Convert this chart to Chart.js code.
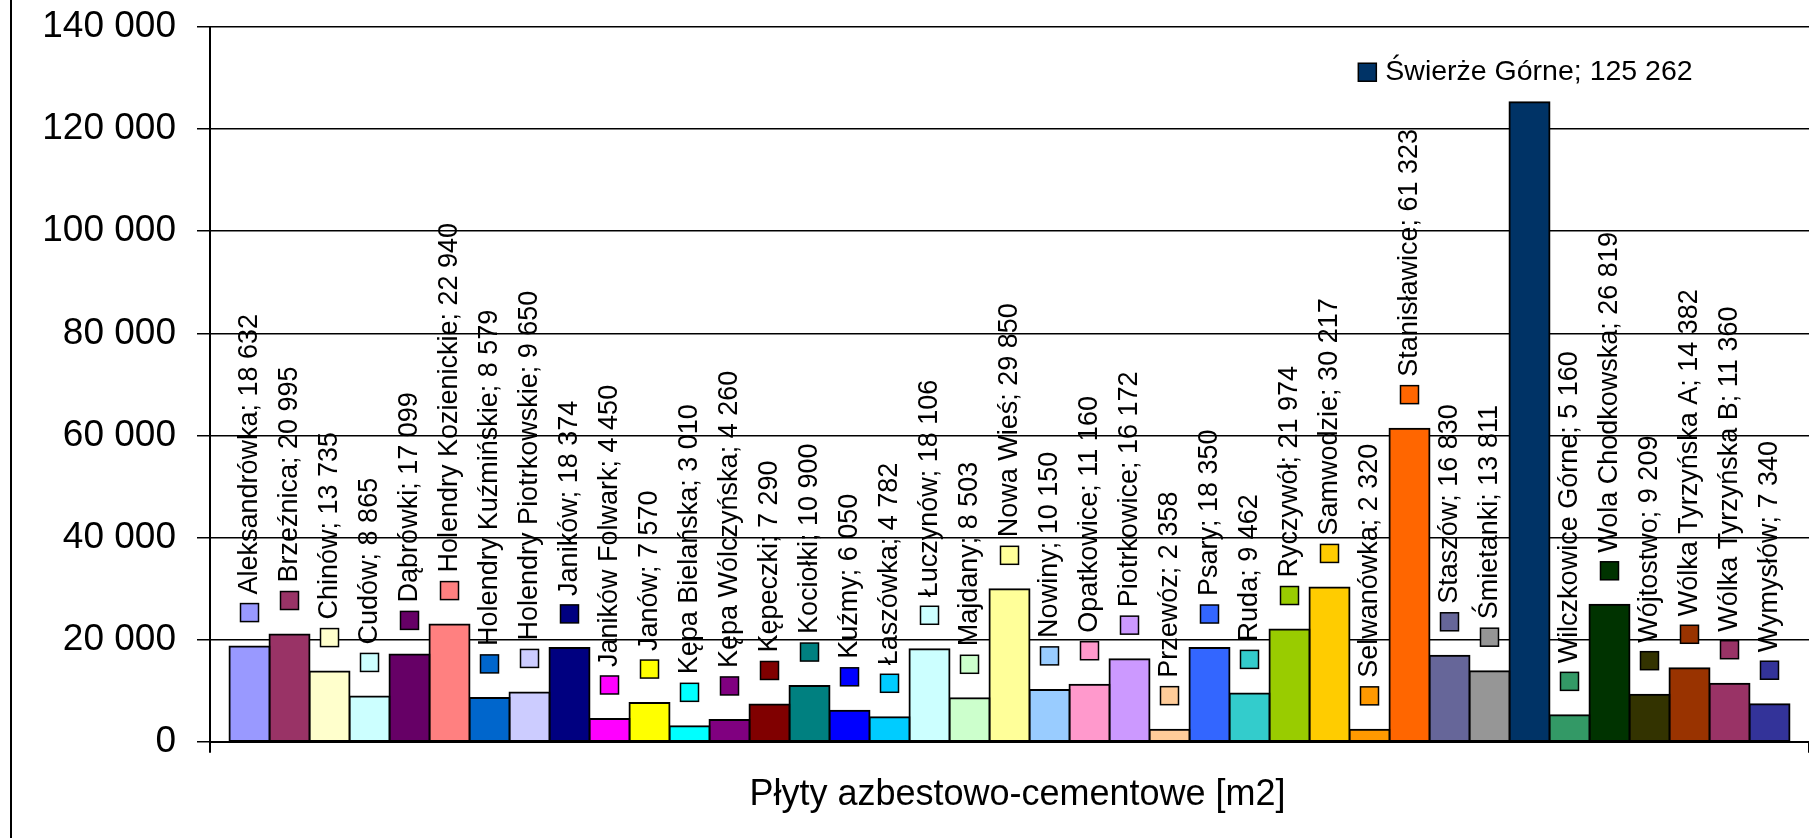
<!DOCTYPE html>
<html lang="pl">
<head>
<meta charset="utf-8">
<title>Płyty azbestowo-cementowe</title>
<script src="https://cdn.jsdelivr.net/npm/chart.js@4.4.1/dist/chart.umd.min.js"></script>
<style>
  html, body { margin: 0; padding: 0; background: #fff; }
  #chart { display: block; }
</style>
</head>
<body>
<canvas id="chart" width="1809" height="838"></canvas>
<script>
/* =========================
   DANE
   ========================= */

const places = [
  'Aleksandrówka', 'Brzeźnica', 'Chinów', 'Cudów', 'Dąbrówki',
  'Holendry Kozienickie', 'Holendry Kuźmińskie', 'Holendry Piotrkowskie',
  'Janików', 'Janików Folwark', 'Janów', 'Kępa Bielańska', 'Kępa Wólczyńska',
  'Kępeczki', 'Kociołki', 'Kuźmy', 'Łaszówka', 'Łuczynów', 'Majdany',
  'Nowa Wieś', 'Nowiny', 'Opatkowice', 'Piotrkowice', 'Przewóz', 'Psary',
  'Ruda', 'Ryczywół', 'Samwodzie', 'Selwanówka', 'Stanisławice', 'Staszów',
  'Śmietanki', 'Świerże Górne', 'Wilczkowice Górne', 'Wola Chodkowska',
  'Wójtostwo', 'Wólka Tyrzyńska A', 'Wólka Tyrzyńska B', 'Wymysłów'
];

const areas = [
  18632, 20995, 13735, 8865, 17099,
  22940, 8579, 9650,
  18374, 4450, 7570, 3010, 4260,
  7290, 10900, 6050, 4782, 18106, 8503,
  29850, 10150, 11160, 16172, 2358, 18350,
  9462, 21974, 30217, 2320, 61323, 16830,
  13811, 125262, 5160, 26819,
  9209, 14382, 11360, 7340
];

const barColors = [
  '#9999FF', '#993366', '#FFFFCC', '#CCFFFF', '#660066',
  '#FF8080', '#0066CC', '#CCCCFF',
  '#000080', '#FF00FF', '#FFFF00', '#00FFFF', '#800080',
  '#800000', '#008080', '#0000FF', '#00CCFF', '#CCFFFF', '#CCFFCC',
  '#FFFF99', '#99CCFF', '#FF99CC', '#CC99FF', '#FFCC99', '#3366FF',
  '#33CCCC', '#99CC00', '#FFCC00', '#FF9900', '#FF6600', '#666699',
  '#969696', '#003366', '#339966', '#003300',
  '#333300', '#993300', '#993366', '#333399'
];

const yTicks = [0, 20000, 40000, 60000, 80000, 100000, 120000, 140000];
const axisTitle = 'Płyty azbestowo-cementowe [m2]';

/* =========================
   POMOCNICZE
   ========================= */

const FONT = "'Liberation Sans', Arial, sans-serif";
const KEY = 18;       // kwadrat legendy przy etykiecie
const KEY_GAP = 9;

function fmt(v) {
  return String(v).replace(/\B(?=(\d{3})+(?!\d))/g, ' ');
}

// lewa krawedz ramki + tytul osi X
const framePlugin = {
  id: 'frame',
  afterDraw(chart) {
    const ctx = chart.ctx;
    const area = chart.chartArea;
    ctx.save();
    ctx.fillStyle = '#000';
    ctx.fillRect(10, 0, 2, chart.height);

    ctx.font = '36px ' + FONT;
    ctx.textAlign = 'center';
    ctx.textBaseline = 'middle';
    ctx.fillText(axisTitle, (area.left + area.right) / 2 + 8, area.bottom + 53);
    ctx.restore();
  }
};

// etykiety "nazwa; wartosc" z kwadracikiem w kolorze serii
const labelPlugin = {
  id: 'barLabels',
  afterDatasetsDraw(chart) {
    const ctx = chart.ctx;
    const area = chart.chartArea;

    ctx.save();
    ctx.textBaseline = 'middle';
    ctx.textAlign = 'left';
    ctx.lineWidth = 1.5;
    ctx.strokeStyle = '#000';

    chart.data.datasets.forEach((ds, i) => {
      const bar = chart.getDatasetMeta(i).data[0];
      if (!bar) return;

      const text = ds.label + '; ' + fmt(ds.data[0]);
      ctx.font = '27px ' + FONT;
      let len = KEY + KEY_GAP + ctx.measureText(text).width;
      const base = bar.y - 25;

      ctx.save();
      if (base - len < area.top) {
        // brak miejsca w pionie -> etykieta pozioma
        ctx.font = '28.5px ' + FONT;
        len = KEY + KEY_GAP + ctx.measureText(text).width;
        ctx.translate(bar.x - len / 2 - 4, bar.y - 30);
      } else {
        ctx.translate(bar.x, base);
        ctx.rotate(-Math.PI / 2);
      }
      ctx.fillStyle = ds.backgroundColor;
      ctx.fillRect(0, -KEY / 2, KEY, KEY);
      ctx.strokeRect(0, -KEY / 2, KEY, KEY);
      ctx.fillStyle = '#000';
      ctx.fillText(text, KEY + KEY_GAP, 0);
      ctx.restore();
    });

    ctx.restore();
  }
};

/* =========================
   WYKRES
   ========================= */

const datasets = places.map((name, i) => ({
  label: name,
  data: [areas[i]],
  backgroundColor: barColors[i],
  borderColor: '#000',
  borderWidth: 2,
  borderSkipped: false,
  inflateAmount: 1,
  categoryPercentage: 0.9756,
  barPercentage: 1
}));

new Chart(document.getElementById('chart'), {
  type: 'bar',
  data: {
    labels: [''],
    datasets
  },
  options: {
    responsive: false,
    animation: false,
    events: [],
    layout: { padding: { top: 27, right: 0, bottom: 85.3, left: 0 } },
    plugins: {
      legend: { display: false },
      tooltip: { enabled: false }
    },
    scales: {
      x: {
        ticks: { display: false },
        grid: {
          drawOnChartArea: false,
          drawTicks: true,
          tickLength: 11,
          color: '#000',
          lineWidth: 2
        },
        border: { display: true, color: '#000', width: 2 }
      },
      y: {
        min: 0,
        max: 140000,
        afterBuildTicks(scale) {
          scale.ticks = yTicks.map(v => ({ value: v }));
        },
        afterFit(scale) {
          scale.width = 210;
          scale.paddingTop = 0;
          scale.paddingBottom = 0;
        },
        ticks: {
          color: '#000',
          padding: 21,
          font: { family: FONT, size: 37 },
          callback: v => fmt(v)
        },
        grid: {
          color: '#000',
          lineWidth: 1.5,
          tickLength: 13
        },
        border: { display: true, color: '#000', width: 2 }
      }
    }
  },
  plugins: [framePlugin, labelPlugin]
});
</script>
</body>
</html>
